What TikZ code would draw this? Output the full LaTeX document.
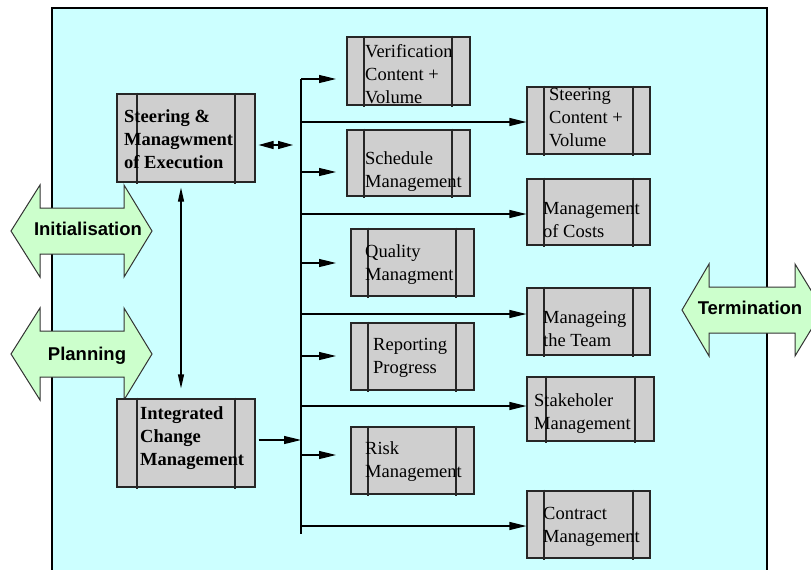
\documentclass[tikz,border=0pt]{standalone}
\usepackage{fontspec}
\setmainfont{Liberation Serif}
\newfontfamily\labelsans{Liberation Sans}
\usetikzlibrary{arrows.meta,fit}

\definecolor{canvas}{RGB}{204,255,255}
\definecolor{boxfill}{RGB}{207,207,207}
\definecolor{phase}{RGB}{204,255,204}

% process box: name, corners (x1,y1) (x2,y2), inner divider positions
\newcommand\procbox[7]{%
  \node[pbox, fit={(#2,#3) (#4,#5)}] (#1) {};
  \draw[divider] (#6,{#3-1.5}) -- (#6,{#5+1.5});
  \draw[divider] (#7,{#3-1.5}) -- (#7,{#5+1.5});
}
\newcommand\boxlines[1]{\begin{tabular}[t]{@{}l@{}}#1\end{tabular}}

\tikzset{
  pbox/.style={draw=black!85, fill=boxfill, line width=1.2pt, inner sep=0pt},
  divider/.style={draw=black!85, line width=1.2pt},
  btext/.style={font=\fontsize{18.5}{23}\selectfont, inner sep=0pt, anchor=base west},
  bbold/.style={font=\bfseries\fontsize{18.5}{23}\selectfont, inner sep=0pt, anchor=base west},
  wire/.style={line width=1.2pt},
  arr/.style={wire, -{Triangle[length=17pt,width=8pt]}},
  twoway/.style={wire, {Triangle[length=14pt,width=6pt]}-{Triangle[length=14pt,width=6pt]}},
  phasearrow/.style={draw=black!80, fill=phase, line width=1pt, line join=miter},
  phaselabel/.style={font=\labelsans\bfseries\fontsize{18.5}{22}\selectfont, inner sep=0pt, anchor=base},
}

\begin{document}
\begin{tikzpicture}[x=1pt, y=-1pt]
\useasboundingbox (0,0) rectangle (811,570);
\clip (0,0) rectangle (811,570);

% project area
\fill[canvas] (52,8) rectangle (767,590);
\draw[line width=1.2pt] (52,590) -- (52,8) -- (767,8) -- (767,590);

% phase arrows
\draw[phasearrow] (11,231) -- (40,185) -- (40,208) -- (124,208) -- (124,185) -- (152,231)
  -- (124,277) -- (124,254) -- (40,254) -- (40,277) -- cycle;
\node[phaselabel] (init) at (88,235) {Initialisation};

\draw[phasearrow] (11,354) -- (40,308) -- (40,331) -- (124,331) -- (124,308) -- (152,354)
  -- (124,400) -- (124,377) -- (40,377) -- (40,400) -- cycle;
\node[phaselabel] (plan) at (87,360) {Planning};

\draw[phasearrow] (682,310) -- (709,264) -- (709,287) -- (795,287) -- (795,264) -- (823,310)
  -- (795,356) -- (795,333) -- (709,333) -- (709,356) -- cycle;
\node[phaselabel] (term) at (750,314) {Termination};

% left column
\procbox{seb}{117}{94}{255}{182}{137}{235}
\node[bbold] (seb-t) at (124,122) {\boxlines{Steering \&\\Managwment\\of Execution}};
\procbox{icm}{117}{399}{255}{487}{137}{235}
\node[bbold] (icm-t) at (140,419) {\boxlines{Integrated\\Change\\Management}};

% middle column
\procbox{ver}{347}{37}{470}{105}{364}{452}
\node[btext] (ver-t) at (365,57) {\boxlines{Verification\\Content +\\Volume}};
\procbox{sch}{347}{130}{470}{196}{364}{452}
\node[btext] (sch-t) at (365,164) {\boxlines{Schedule\\Management}};
\procbox{qua}{351}{229}{474}{296}{368}{456}
\node[btext] (qua-t) at (365,257) {\boxlines{Quality\\Managment}};
\procbox{rep}{351}{323}{474}{390}{368}{456}
\node[btext] (rep-t) at (373,350) {\boxlines{Reporting\\Progress}};
\procbox{rsk}{351}{427}{474}{494}{368}{456}
\node[btext] (rsk-t) at (365,454) {\boxlines{Risk\\Management}};

% right column
\procbox{stc}{527}{87}{650}{154}{544}{633}
\node[btext] (stc-t) at (549,100) {\boxlines{Steering\\Content +\\Volume}};
\procbox{cos}{527}{179}{650}{245}{544}{633}
\node[btext] (cos-t) at (543,214) {\boxlines{Management\\of Costs}};
\procbox{tea}{527}{288}{650}{355}{544}{633}
\node[btext] (tea-t) at (543,323) {\boxlines{Manageing\\the Team}};
\procbox{stk}{527}{377}{654}{441}{546}{635}
\node[btext] (stk-t) at (534,406) {\boxlines{Stakeholer\\Management}};
\procbox{con}{527}{491}{650}{558}{544}{633}
\node[btext] (con-t) at (543,519) {\boxlines{Contract\\Management}};

% distribution trunk
\coordinate (tA) at (301,79);
\coordinate (tB) at (301,122);
\coordinate (tC) at (301,172);
\coordinate (tD) at (301,214);
\coordinate (tE) at (301,263);
\coordinate (tF) at (301,314);
\coordinate (tG) at (301,356);
\coordinate (tH) at (301,406);
\coordinate (tI) at (301,440);
\coordinate (tJ) at (301,455);
\coordinate (tK) at (301,526);
\coordinate (tZ) at (301,534);
\draw[wire] (tA) -- (tZ);

% short branches toward the middle column
\coordinate (eA) at (336,79);
\coordinate (eC) at (336,172);
\coordinate (eE) at (336,263);
\coordinate (eG) at (336,356);
\coordinate (eJ) at (336,455);
\draw[arr] (tA) -- (eA);
\draw[arr] (tC) -- (eC);
\draw[arr] (tE) -- (eE);
\draw[arr] (tG) -- (eG);
\draw[arr] (tJ) -- (eJ);

% long branches to the right column
\draw[arr] (tB) -- (stc.west |- tB);
\draw[arr] (tD) -- (cos.west |- tD);
\draw[arr] (tF) -- (tea.west |- tF);
\draw[arr] (tH) -- (stk.west |- tH);
\draw[arr] (tK) -- (con.west |- tK);

% change management feeds the trunk
\draw[arr, shorten <=3pt] (icm.east |- tI) -- (tI);

% steering <-> change management
\coordinate (vx) at (181,0);
\draw[twoway, shorten <=5pt, shorten >=10pt] (seb.south -| vx) -- (icm.north -| vx);

% steering output link
\coordinate (dm) at (293,145);
\draw[wire, {Triangle[length=15pt,width=8pt]}-{Triangle[length=15pt,width=8pt]}, shorten <=3pt] (seb.east |- dm) -- (dm);
\end{tikzpicture}
\end{document}
